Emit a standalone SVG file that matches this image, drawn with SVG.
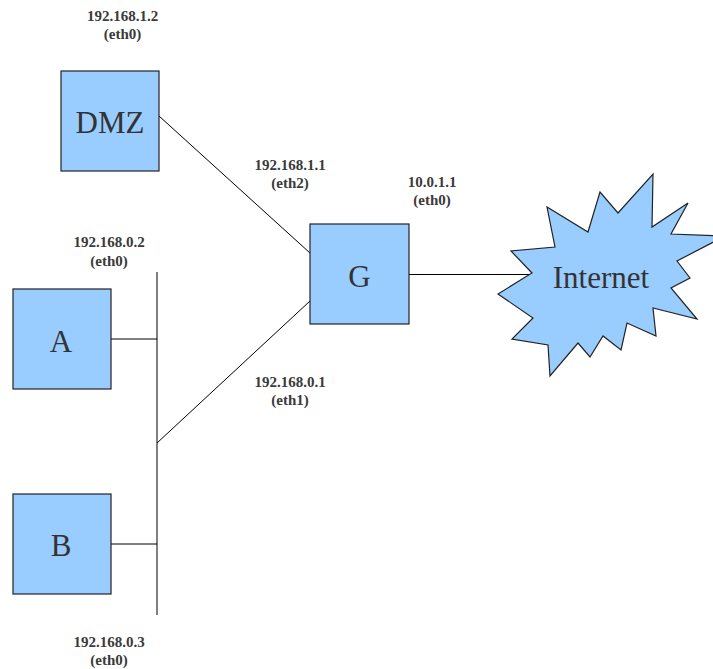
<svg xmlns="http://www.w3.org/2000/svg" width="713" height="669" viewBox="0 0 713 669">
<style>
.box{fill:#99ccff;stroke:#222;stroke-width:1.2}
.name{font-family:'Liberation Serif','Times New Roman',Tinos,'DejaVu Serif',serif;font-size:31px;fill:#333;text-anchor:middle}
.lbl{font-family:'Liberation Serif','Times New Roman',Tinos,'DejaVu Serif',serif;font-size:15px;font-weight:bold;fill:#3a3a3a;text-anchor:middle}
.wire{stroke:#000;stroke-width:1;fill:none}
</style>
<rect width="713" height="669" fill="#fff"/>
<g id="connectors">
<line class="wire" x1="159" y1="116" x2="310" y2="253"/>
<line class="wire" x1="157" y1="272" x2="157" y2="615"/>
<line class="wire" x1="107" y1="339" x2="157" y2="339"/>
<line class="wire" x1="111" y1="544" x2="157" y2="544"/>
<line class="wire" x1="157" y1="443" x2="310" y2="301"/>
<line class="wire" x1="409" y1="274.5" x2="532" y2="274.5"/>
</g>
<g id="node-dmz">
<rect class="box" x="61" y="71" width="98" height="100"/>
<text class="name" x="110" y="133" font-family="Liberation Serif, serif">DMZ</text>
</g>
<g id="node-a">
<rect class="box" x="13" y="289" width="98" height="100"/>
<text class="name" x="61" y="352" font-family="Liberation Serif, serif">A</text>
</g>
<g id="node-b">
<rect class="box" x="13" y="494" width="98" height="100"/>
<text class="name" x="61" y="556" font-family="Liberation Serif, serif">B</text>
</g>
<g id="node-g">
<rect class="box" x="310" y="224" width="99" height="100"/>
<text class="name" x="359.5" y="287" font-family="Liberation Serif, serif">G</text>
</g>
<g id="node-internet">
<polygon class="box" points="653,174 652,227 688,203 671,234 725,236 677,261 690,278 671,288 697,319 653,308 656,336 627,323 621,350 603,336 590,357 578,343 550,376 548,345 512,339 533,318 498,294 532,273 511,251 555,247 547,207 588,232 600,192 618,213"/>
<text class="name" x="601" y="288" font-family="Liberation Serif, serif">Internet</text>
</g>
<g id="labels" font-family="Liberation Serif, serif">
<text class="lbl" x="122.5" y="21">192.168.1.2</text>
<text class="lbl" x="122.5" y="39">(eth0)</text>
<text class="lbl" x="290" y="170">192.168.1.1</text>
<text class="lbl" x="290" y="188">(eth2)</text>
<text class="lbl" x="432" y="187">10.0.1.1</text>
<text class="lbl" x="432" y="205">(eth0)</text>
<text class="lbl" x="109" y="247">192.168.0.2</text>
<text class="lbl" x="109" y="265.5">(eth0)</text>
<text class="lbl" x="290" y="387">192.168.0.1</text>
<text class="lbl" x="290" y="405">(eth1)</text>
<text class="lbl" x="109" y="646.5">192.168.0.3</text>
<text class="lbl" x="109" y="665">(eth0)</text>
</g>
</svg>
